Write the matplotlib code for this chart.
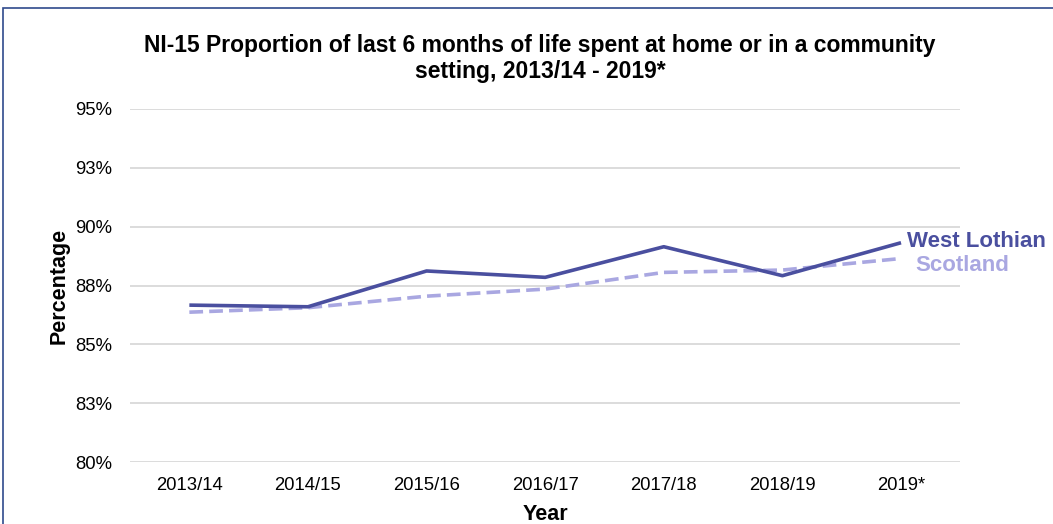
import matplotlib
matplotlib.use("Agg")
import matplotlib.pyplot as plt
from matplotlib.patches import Rectangle

plt.rcParams['font.family'] = ['Liberation Sans', 'DejaVu Sans']

years = ["2013/14", "2014/15", "2015/16", "2016/17", "2017/18", "2018/19", "2019*"]
west_lothian = [86.67, 86.60, 88.12, 87.85, 89.15, 87.92, 89.32]
scotland = [86.37, 86.56, 87.05, 87.35, 88.06, 88.16, 88.65]
y_ticks = [80, 82.5, 85, 87.5, 90, 92.5, 95]
y_tick_labels = ["80%", "83%", "85%", "88%", "90%", "93%", "95%"]

wl_color = "#4a4f9f"
sc_color = "#a9a7e1"

fig = plt.figure(figsize=(10.53, 5.24), dpi=100)
ax = fig.add_axes([0.1235, 0.118, 0.7885, 0.674])

x = list(range(len(years)))
ax.plot(x, west_lothian, color=wl_color, lw=2.6, solid_capstyle='butt', zorder=3)
ax.plot(x, scotland, color=sc_color, lw=2.6, dashes=(3.8, 1.7), zorder=2)

ax.set_xlim(-0.5, len(years) - 0.5)
ax.set_ylim(80, 95)
ax.set_yticks(y_ticks)
ax.set_yticklabels(y_tick_labels)
ax.set_xticks(x)
ax.set_xticklabels(years)
ax.tick_params(axis='both', length=0, labelsize=13.3, colors='#000000')
ax.tick_params(axis='y', pad=13)
ax.tick_params(axis='x', pad=11)
ax.grid(axis='y', color='#d9d9d9', lw=1.3)
ax.set_axisbelow(True)
for s in ax.spines.values():
    s.set_visible(False)

ax.set_ylabel("Percentage", fontsize=15.5, fontweight='bold', labelpad=4)
ax.set_xlabel("Year", fontsize=15.5, fontweight='bold', labelpad=7)

ax.annotate("West Lothian", xy=(x[-1], west_lothian[-1]), xytext=(4, 1),
            textcoords='offset points', color=wl_color, fontsize=16,
            fontweight='bold', va='center', ha='left', annotation_clip=False)
ax.annotate("Scotland", xy=(x[-1], scotland[-1]), xytext=(10, -5),
            textcoords='offset points', color=sc_color, fontsize=16,
            fontweight='bold', va='center', ha='left', annotation_clip=False)

fig.text(0.513, 0.888, "NI-15 Proportion of last 6 months of life spent at home or in a community\nsetting, 2013/14 - 2019*",
         ha='center', va='center', fontsize=16.5, fontweight='bold', linespacing=1.2)

fig.patches.append(Rectangle((3 / 1053, -0.05), 1.1, 1.05 - 8 / 524, transform=fig.transFigure,
                             fill=False, edgecolor='#2f4a8c', lw=1.2))

fig.savefig("out.png", dpi=100)
